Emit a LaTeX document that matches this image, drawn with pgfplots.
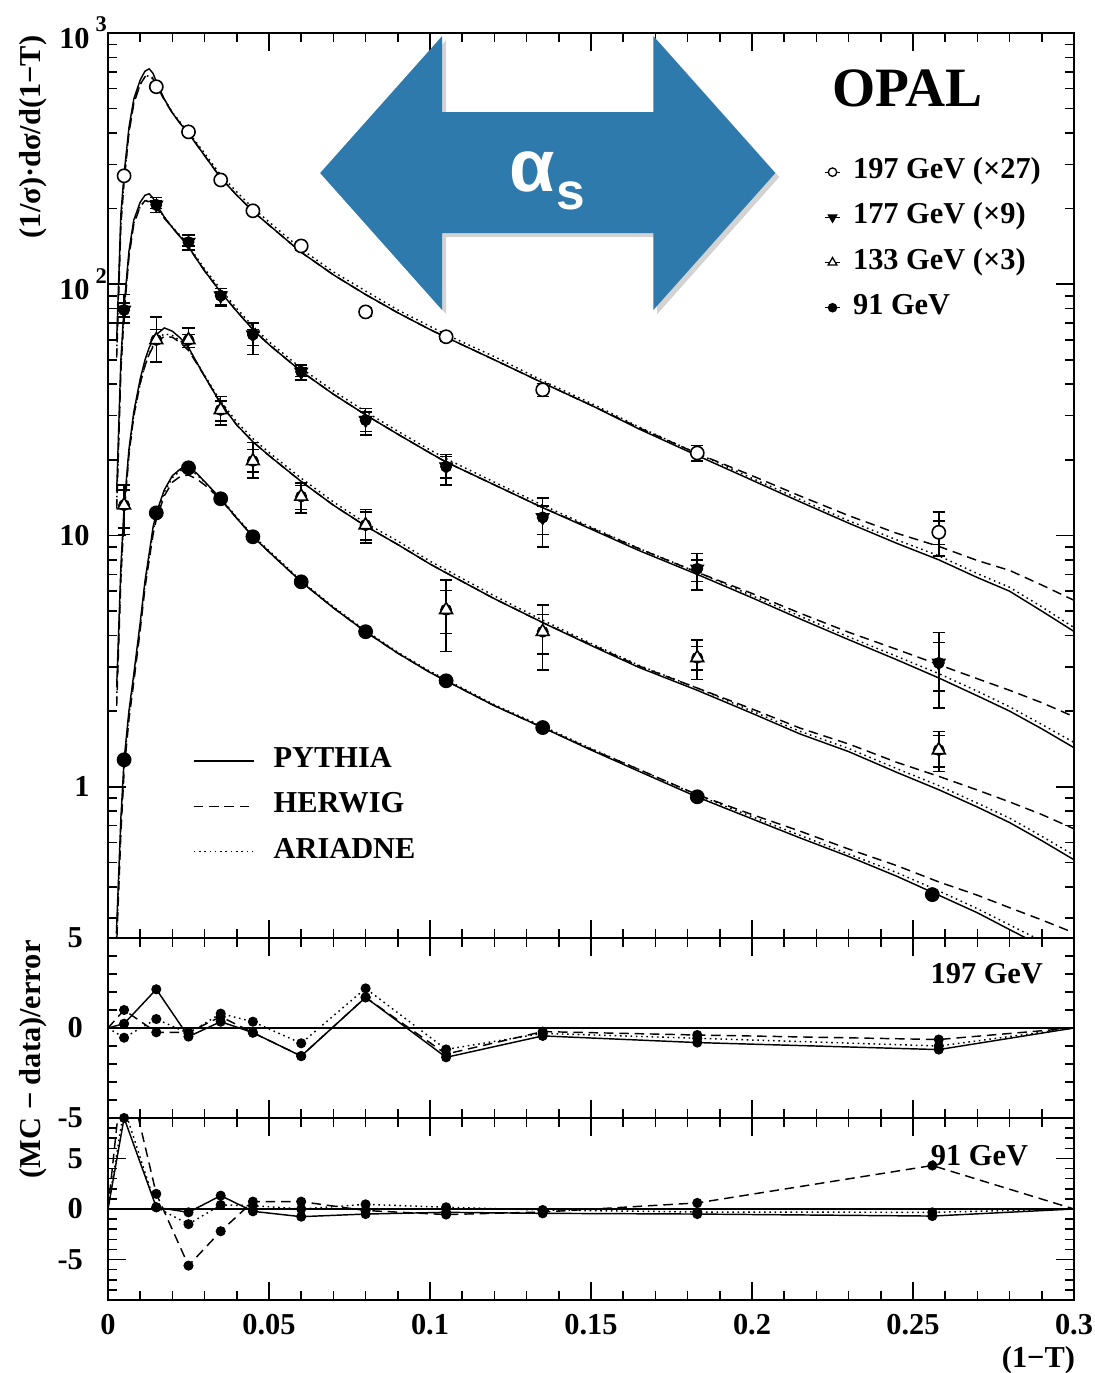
\documentclass[border=0pt]{standalone}
\usepackage{fontspec}
\setmainfont{Liberation Serif}
\newfontfamily\sansfam{Liberation Sans}
\usepackage{pgfplots}
\usepackage{pgfplotstable}
\pgfplotsset{compat=1.18}
\usetikzlibrary{shadows}
\definecolor{arrowblue}{RGB}{46,122,172}
\newcommand{\lf}{\fontsize{11.5}{13}\selectfont\bfseries}
\newcommand{\tenpow}[1]{\mbox{10\rlap{\kern0.2em\raisebox{0.55em}{\fontsize{8.5}{9}\selectfont #1}}}}

% model curves: x, PYTHIA, HERWIG, ARIADNE
\pgfplotstableread{
x p h a
0.0027 60 51 54
0.004 190 171 177
0.005 275 256 261
0.0065 420 399 403
0.008 545 523 529
0.01 650 624 624
0.0115 705 670 670
0.0128 720 670 677
0.014 690 656 662
0.015 640 621 627
0.0175 545 540 545
0.02 480 480 483
0.0225 435 435 440
0.025 398 398 403
0.0275 360 360 366
0.03 325 325 332
0.035 265 265 272
0.04 226 226 233
0.045 195 195 201
0.05 172 172 177
0.06 134 134 138
0.07 109 109 112
0.08 91 91 94
0.09 77 77 79
0.1 66 66 68
0.105 61.5 61.5 63
0.12 50 50 51.5
0.135 40.5 40.5 41.3
0.15 33 33 33.6
0.165 26.5 26.8 27
0.183 20.8 21.2 21.2
0.2 16.6 17.3 16.9
0.215 13.6 14.35 13.9
0.23 11.2 12.0 11.45
0.245 9.3 10.2 9.6
0.258 8.0 9.05 8.3
0.27 6.8 7.95 7.05
0.28 6.0 7.26 6.22
0.29 5.0 6.35 5.2
0.3 4.15 5.52 4.3
}\cA
\pgfplotstableread{
x p h a
0.0027 15 12.8 13.5
0.004 50 45 46.5
0.005 82 76 78
0.0065 135 128 130
0.008 180 173 175
0.01 212 204 204
0.0115 226 215 215
0.0128 229 213 215
0.014 220 209 211
0.015 208 202 204
0.0175 185 183 185
0.02 168 168 169
0.0225 154 154 156
0.025 141 141 143
0.0275 126 126 128
0.03 113 113 115
0.035 93 93 95.5
0.04 78 78 80
0.045 66 66 68
0.05 57.5 57.5 59
0.06 45 45 46.3
0.07 36.5 36.5 37.6
0.08 30.2 30.2 31.1
0.09 25.3 25.3 26
0.1 21.3 21.3 21.9
0.105 19.6 19.6 20.2
0.12 15.9 15.9 16.3
0.135 12.9 12.9 13.2
0.15 10.6 10.7 10.8
0.165 8.7 8.85 8.87
0.183 7.0 7.14 7.14
0.2 5.65 5.88 5.76
0.215 4.65 4.9 4.77
0.23 3.85 4.12 3.95
0.245 3.2 3.52 3.3
0.258 2.71 3.06 2.82
0.27 2.3 2.69 2.4
0.28 2.0 2.42 2.08
0.29 1.7 2.16 1.77
0.3 1.43 1.9 1.5
}\cB
\pgfplotstableread{
x p h a
0.0027 2.5 2.1 2.25
0.004 7.5 6.7 7
0.005 13 12 12.4
0.0065 22 20.9 21.1
0.008 31 29.8 30
0.01 42 40.3 40.3
0.0115 50 47.5 47.5
0.0128 56 52.6 53
0.014 60 56.4 57
0.015 63 59 60
0.0175 67 62 63.5
0.02 65 61.5 62.5
0.0225 61 58.5 59.5
0.025 56 54.5 55
0.0275 49 48.5 49
0.03 43 43 43.4
0.035 33.5 33.5 34.2
0.04 27.5 27.5 28.3
0.045 23.6 23.6 24.3
0.05 20.8 20.8 21.4
0.06 16.4 16.4 16.9
0.07 13.2 13.2 13.6
0.08 10.9 10.9 11.2
0.09 9.2 9.2 9.5
0.1 7.7 7.7 7.9
0.105 7.1 7.1 7.3
0.12 5.6 5.6 5.75
0.135 4.5 4.5 4.6
0.15 3.65 3.68 3.72
0.165 2.98 3.02 3.04
0.183 2.42 2.47 2.47
0.2 1.96 2.04 2.0
0.215 1.62 1.71 1.66
0.23 1.38 1.48 1.42
0.245 1.14 1.25 1.18
0.258 0.973 1.10 1.01
0.27 0.83 0.97 0.86
0.28 0.72 0.87 0.75
0.29 0.61 0.775 0.635
0.3 0.512 0.68 0.534
}\cC
\pgfplotstableread{
x p h a
0.0026 0.26 0.22 0.24
0.004 0.75 0.65 0.7
0.005 1.28 1.15 1.22
0.0065 2.0 1.85 1.92
0.008 2.8 2.6 2.7
0.01 4.5 4.2 4.35
0.0115 6.6 6.2 6.4
0.0128 8.5 8.0 8.2
0.014 10.8 10.1 10.4
0.015 12.3 11.6 11.9
0.0175 15.2 14.4 14.9
0.02 17.3 16.3 17.0
0.0225 18.4 17.2 18.1
0.025 18.7 17.4 18.4
0.0275 17.7 16.8 17.5
0.03 16.4 15.9 16.3
0.035 14.0 13.9 14.1
0.04 11.7 11.7 11.8
0.045 9.9 9.9 10.0
0.05 8.6 8.6 8.7
0.06 6.54 6.54 6.6
0.07 5.15 5.15 5.2
0.08 4.14 4.14 4.18
0.09 3.4 3.4 3.43
0.1 2.85 2.85 2.88
0.105 2.64 2.64 2.67
0.12 2.1 2.1 2.12
0.135 1.72 1.72 1.74
0.15 1.4 1.41 1.42
0.165 1.15 1.17 1.17
0.183 0.91 0.93 0.925
0.2 0.745 0.775 0.76
0.215 0.625 0.665 0.64
0.23 0.528 0.565 0.54
0.245 0.44 0.485 0.455
0.258 0.37 0.418 0.385
0.27 0.315 0.37 0.327
0.28 0.27 0.33 0.282
0.29 0.232 0.295 0.243
0.3 0.2 0.262 0.21
}\cD

% data: x, y, total +, total -, stat +, stat -
\pgfplotstableread{
x y ep em sp sm
0.005 270 8 8 4 4
0.015 611 20 20 10 10
0.025 404 12 12 6 6
0.035 260 8 8 4 4
0.045 196 6 6 3 3
0.06 142 5 5 2.5 2.5
0.08 77.6 3 3 1.5 1.5
0.105 61.8 2.5 2.5 1.2 1.2
0.135 38 2.2 2.2 1.1 1.1
0.183 21.3 1.5 1.5 0.7 0.7
0.258 10.3 2.1 2.0 1.1 1.1
}\dA
\pgfplotstableread{
x y ep em sp sm
0.005 79 12 9 5 5
0.015 207 14 14 7 7
0.025 147 10 10 5 5
0.035 90 6 8 3 7
0.045 63 7 10.5 3 6
0.06 44.8 3 3.2 1.5 1.8
0.08 28.8 3.2 3.7 2.2 2.9
0.105 18.8 2.2 2.9 1.8 1.9
0.135 11.8 2.3 2.8 1.3 1.7
0.183 7.37 1.1 1.3 0.6 0.8
0.258 3.11 1.0 1.05 0.64 0.70
}\dB
\pgfplotstableread{
x y ep em sp sm
0.005 13.2 2.7 3.1 2.0 2.5
0.015 60 14 11 6 2
0.025 60 7 4 3 2
0.035 31.6 4.1 4.1 2.7 3.1
0.045 19.8 3.6 2.9 2.2 1.9
0.06 14.3 1.9 2.0 1.5 1.6
0.08 11.0 1.7 1.65 1.4 1.4
0.105 5.06 1.6 1.61 0.98 0.98
0.135 4.14 1.16 1.22 0.7 0.76
0.183 3.26 0.58 0.59 0.35 0.35
0.258 1.40 0.26 0.25 0.2 0.2
}\dC
\pgfplotstableread{
x y
0.005 1.28
0.015 12.3
0.025 18.6
0.035 14.0
0.045 9.88
0.06 6.54
0.08 4.14
0.105 2.64
0.135 1.72
0.183 0.912
0.256 0.372
}\dD

% (MC - data)/error
\pgfplotstableread{
x p h a
0 0 0 0
0.005 0.24 1.0 -0.54
0.015 2.15 -0.24 0.5
0.025 -0.48 -0.25 -0.3
0.035 0.35 0.63 0.8
0.045 -0.26 -0.26 0.35
0.06 -1.56 -1.56 -0.85
0.08 1.7 1.7 2.2
0.105 -1.63 -1.45 -1.19
0.135 -0.44 -0.2 -0.3
0.183 -0.81 -0.39 -0.57
0.258 -1.2 -0.64 -1.0
0.3 0 0 0
}\rA
\pgfplotstableread{
x p h a
0 0 0 0
0.005 9.0 15 10
0.015 0.17 1.5 0.17
0.025 -0.33 -5.6 -1.5
0.035 1.32 -2.2 0.4
0.045 -0.23 0.73 0.33
0.06 -0.76 0.73 0.0
0.08 -0.5 -0.15 0.46
0.105 -0.33 -0.55 0.17
0.135 -0.43 -0.3 -0.1
0.183 -0.5 0.6 -0.3
0.256 -0.7 4.3 -0.33
0.3 0 0 0
}\rB

\pgfplotsset{
  opal/.style={
    scale only axis, width=12.8478cm,
    xmin=0, xmax=0.3,
    xtick={0,0.05,0.1,0.15,0.2,0.25,0.3},
    minor x tick num=4,
    tick align=inside,
    major tick length=0.24cm, minor tick length=0.12cm,
    axis line style={line width=0.8pt},
    every tick/.style={black, line width=0.6pt},
    tick label style={font=\lf},
  },
  py/.style={black, line width=0.55pt, solid, forget plot},
  hw/.style={black, line width=0.55pt, dash pattern=on 3.6pt off 2.2pt, forget plot},
  ar/.style={black, line width=0.55pt, dash pattern=on 0.6pt off 1.4pt, forget plot},
  errs/.style={forget plot, only marks, mark=none,
    error bars/y dir=both, error bars/y explicit,
    error bars/error bar style={black, line width=0.6pt, solid},
    error bars/error mark options={black, line width=0.6pt, mark size=2.3pt, rotate=90}},
  dots/.style={forget plot, only marks, mark=*, mark size=1.7pt, mark options={solid, fill=black},
    restrict x to domain=0.001:0.29, restrict y to domain=-9.5:9.5},
  legstyle/.style={legend cell align=left,
    legend style={draw=none, fill=none, inner sep=0pt, outer sep=0pt,
      row sep=7.1pt, column sep=0pt, font=\lf,
      nodes={inner xsep=0.166cm, inner ysep=0pt, text height=0.75em, text depth=0.25em}}},
}

\begin{document}
\begin{tikzpicture}
\useasboundingbox (0,0) rectangle (14.5502cm,18.2609cm);

% ---------------- main panel ----------------
\begin{axis}[opal, legstyle,
  at={(1.4364cm,5.7855cm)}, anchor=south west, height=12.0365cm,
  ymode=log, ymin=0.25, ymax=1000,
  ytick={1,10,100,1000},
  yticklabels={\mbox{1},\mbox{10},\tenpow{2},\tenpow{3}},
  minor ytick={0.3,0.4,0.5,0.6,0.7,0.8,0.9,2,3,4,5,6,7,8,9,20,30,40,50,60,70,80,90,200,300,400,500,600,700,800,900},
  xticklabels={},
  yticklabel style={xshift=-0.12cm},
  legend image code/.code={\path (0cm,0cm) -- (0.2cm,0cm);\draw[#1] plot coordinates {(0.1cm,0cm)};},
  legend style={at={(0.7417,0.8608)}, anchor=north west},
]
\addplot[py] table[x=x,y=p]{\cA};
\addplot[hw] table[x=x,y=h]{\cA};
\addplot[ar] table[x=x,y=a]{\cA};
\addplot[py] table[x=x,y=p]{\cB};
\addplot[hw] table[x=x,y=h]{\cB};
\addplot[ar] table[x=x,y=a]{\cB};
\addplot[py] table[x=x,y=p]{\cC};
\addplot[hw] table[x=x,y=h]{\cC};
\addplot[ar] table[x=x,y=a]{\cC};
\addplot[py] table[x=x,y=p]{\cD};
\addplot[hw] table[x=x,y=h]{\cD};
\addplot[ar] table[x=x,y=a]{\cD};
% total and statistical error bars
\addplot[errs] table[x=x,y=y,y error plus=ep,y error minus=em]{\dA};
\addplot[errs] table[x=x,y=y,y error plus=sp,y error minus=sm]{\dA};
\addplot[errs] table[x=x,y=y,y error plus=ep,y error minus=em]{\dB};
\addplot[errs] table[x=x,y=y,y error plus=sp,y error minus=sm]{\dB};
\addplot[errs] table[x=x,y=y,y error plus=ep,y error minus=em]{\dC};
\addplot[errs] table[x=x,y=y,y error plus=sp,y error minus=sm]{\dC};
% markers on top
\addplot[forget plot, only marks, mark=*, mark size=2.5pt, mark options={fill=white, draw=black, line width=0.6pt}] table[x=x,y=y]{\dA};
\addplot[forget plot, only marks, mark=triangle*, mark size=2.8pt, mark options={rotate=180, fill=black, draw=black, line width=0.4pt}] table[x=x,y=y]{\dB};
\addplot[forget plot, only marks, mark=triangle*, mark size=2.8pt, mark options={fill=white, draw=black, line width=0.6pt}] table[x=x,y=y]{\dC};
\addplot[forget plot, only marks, mark=*, mark size=2.6pt, mark options={fill=black}] table[x=x,y=y]{\dD};

\addlegendimage{only marks, mark=*, mark size=1.6pt, mark options={fill=white, draw=black, line width=0.5pt}}
\addlegendentry{197 GeV (×27)}
\addlegendimage{only marks, mark=triangle*, mark size=1.9pt, mark options={rotate=180, fill=black}}
\addlegendentry{177 GeV (×9)}
\addlegendimage{only marks, mark=triangle*, mark size=1.9pt, mark options={fill=white, draw=black, line width=0.5pt}}
\addlegendentry{133 GeV (×3)}
\addlegendimage{only marks, mark=*, mark size=1.6pt, mark options={fill=black}}
\addlegendentry{91 GeV}
\end{axis}

% MC legend in an overlay axis
\begin{axis}[legstyle, at={(1.4364cm,5.7855cm)}, anchor=south west,
  scale only axis, width=12.8478cm, height=12.0365cm, hide axis,
  xmin=0, xmax=1, ymin=0, ymax=1,
  legend image code/.code={\draw[#1] (0cm,0cm) -- (0.8cm,0cm);\path (0.887cm,0cm);},
  legend style={at={(0.088,0.21)}, anchor=north west},
]
\addlegendimage{black, line width=0.55pt, solid}
\addlegendentry{PYTHIA}
\addlegendimage{black, line width=0.55pt, dash pattern=on 3.6pt off 2.2pt}
\addlegendentry{HERWIG}
\addlegendimage{black, line width=0.55pt, dash pattern=on 0.6pt off 1.4pt}
\addlegendentry{ARIADNE}
\end{axis}

% ---------------- 197 GeV ratio ----------------
\begin{axis}[opal, at={(1.4364cm,3.3915cm)}, anchor=south west, height=2.394cm,
  ymin=-5, ymax=5, ytick={-5,0,5}, yticklabels={\mbox{-5},\mbox{0},\mbox{5}},
  minor ytick={-4,-3,-2,-1,1,2,3,4},
  xticklabels={}, yticklabel style={xshift=-0.21cm},
]
\addplot[forget plot, black, line width=0.55pt] coordinates {(0,0) (0.3,0)};
\addplot[py] table[x=x,y=p]{\rA};
\addplot[hw] table[x=x,y=h]{\rA};
\addplot[ar] table[x=x,y=a]{\rA};
\addplot[dots] table[x=x,y=p]{\rA};
\addplot[dots] table[x=x,y=h]{\rA};
\addplot[dots] table[x=x,y=a]{\rA};
\end{axis}

% ---------------- 91 GeV ratio ----------------
\begin{axis}[opal, at={(1.4364cm,0.9709cm)}, anchor=south west, height=2.4206cm,
  ymin=-9, ymax=9, ytick={-5,0,5}, yticklabels={\mbox{-5},\mbox{0},\mbox{5}},
  minor ytick={-8,-7,-6,-4,-3,-2,-1,1,2,3,4,6,7,8},
  xticklabels={\mbox{0},\mbox{0.05},\mbox{0.1},\mbox{0.15},\mbox{0.2},\mbox{0.25},\mbox{0.3}},
  xticklabel style={yshift=-0.07cm},
  yticklabel style={xshift=-0.21cm},
]
\addplot[forget plot, black, line width=0.55pt] coordinates {(0,0) (0.3,0)};
\addplot[py] table[x=x,y=p]{\rB};
\addplot[hw] table[x=x,y=h]{\rB};
\addplot[ar] table[x=x,y=a]{\rB};
\addplot[dots] table[x=x,y=p]{\rB};
\addplot[dots] table[x=x,y=h]{\rB};
\addplot[dots] table[x=x,y=a]{\rB};
\end{axis}

% ---------------- decorations and labels (pixel coordinates) ----------------
\begin{scope}[yshift=18.2609cm, x=0.0133cm, y=-0.0133cm]
\fill[arrowblue, drop shadow={shadow xshift=1.5pt, shadow yshift=-1.5pt, opacity=0.35}]
  (320,173) -- (442,36) -- (442,112) -- (653,112) -- (653,36) -- (775,173)
  -- (653,310) -- (653,233) -- (442,233) -- (442,310) -- cycle;
\node[text=white, inner sep=0pt] at (547,181)
  {\sansfam\bfseries\fontsize{28}{28}\selectfont α\kern0.03em\raisebox{-0.25em}{\fontsize{19.5}{20}\selectfont s}};
\node[inner sep=0pt] at (907,88) {\fontsize{21}{24}\selectfont\bfseries OPAL};
\node[rotate=90, inner sep=0pt, font=\lf] at (33,137) {(1/σ)·dσ/d(1−T)};
\node[rotate=90, inner sep=0pt, font=\lf] at (33,1059) {(MC − data)/error};
\node[inner sep=0pt, font=\lf] at (1038,1360) {(1−T)};
\node[anchor=east, inner sep=0pt, font=\lf] at (1043,973) {197 GeV};
\node[anchor=west, inner sep=0pt, font=\lf] at (930,1155) {91 GeV};
\end{scope}
\end{tikzpicture}
\end{document}
